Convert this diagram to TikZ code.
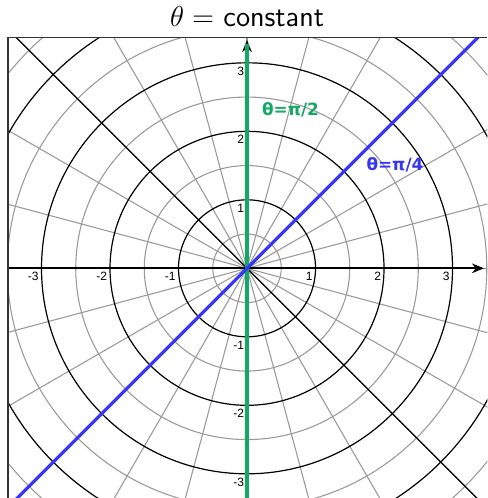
\documentclass[tikz,border=0pt]{standalone}
\usepackage{fontspec}
\usepackage{tikz}
\usetikzlibrary{arrows.meta, calc}
\newfontfamily\labelfont{DejaVu Sans}
\newfontfamily\tickfont{Liberation Sans}
\definecolor{thetagreen}{HTML}{12A865}
\definecolor{thetablue}{HTML}{3535F5}
\definecolor{gridgray}{HTML}{9A9A9A}

\begin{document}
\begin{tikzpicture}[
    minor/.style={gridgray, line width=0.45pt},
    major/.style={black, line width=0.5pt},
    axis/.style={black, line width=0.8pt, -{Stealth[length=5pt, width=4pt]}},
    ticklabel/.style={font=\tickfont\fontsize{5}{6}\selectfont, inner xsep=1pt, inner ysep=1.5pt, anchor=north east},
    ray/.style={line width=1.3pt},
    raylabel/.style={font=\labelfont\bfseries\fontsize{7}{8}\selectfont}]
  \useasboundingbox (-3.606,-3.353) rectangle (3.504,3.917);
  % frame corners
  \coordinate (tl) at (-3.49,3.372);
  \coordinate (tr) at (3.51,3.372);
  \coordinate (bl) at (-3.49,-3.36);
  \coordinate (O) at (0,0);
  \begin{scope}
    \clip (bl) rectangle (tr);
    % polar grid
    \foreach \a in {0,15,...,345} \draw[minor] (O) -- (\a:6);
    \foreach \r in {0.5,1.5,...,4.5} \draw[minor] (O) circle (\r);
    \foreach \r in {1,...,5} \draw[major] (O) circle (\r);
    \foreach \a in {45,135,225,315} \draw[major] (O) -- (\a:6);
    % axes
    \draw[axis] (-3.49,0) -- (3.46,0);
    \draw[axis] (0,-3.36) -- (0,3.333);
    % theta = constant lines
    \draw[ray, thetagreen] (0,-3.4) -- (0,3.27);
    \draw[ray, thetablue] (225:6) -- (45:6);
  \end{scope}
  \draw[black!80, line width=0.5pt] (bl) -- (tl) -- (tr);
  % tick labels
  \foreach \i in {1,2,3} {
    \node[ticklabel] (xp\i) at (\i,0) {\i};
    \node[ticklabel] (xm\i) at (-\i,0) {-\i};
    \node[ticklabel] (yp\i) at (0,\i) {\i};
    \node[ticklabel] (ym\i) at (0,-\i) {-\i};
  }
  \node[raylabel, text=thetagreen] (half) at (0.635,2.318) {θ=π/2};
  \node[raylabel, text=thetablue] (quarter) at (2.16,1.515) {θ=π/4};
  \node[font=\large\sffamily] (title) at (0,3.67) {$\theta =$ constant};
\end{tikzpicture}
\end{document}
